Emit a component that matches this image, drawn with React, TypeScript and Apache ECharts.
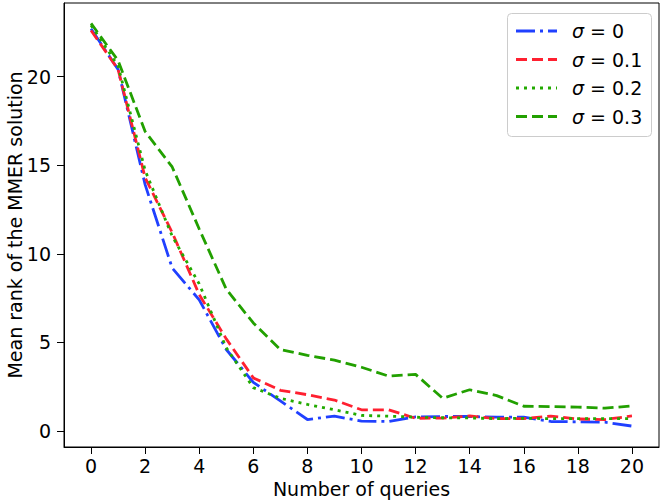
import React, { useEffect, useRef } from "react";
import * as echarts from "echarts";

const queries = [0, 1, 2, 3, 4, 5, 6, 7, 8, 9, 10, 11, 12, 13, 14, 15, 16, 17, 18, 19, 20];
const sigma0 = [22.7, 20.4, 13.9, 9.2, 7.4, 4.6, 2.75, 1.7, 0.65, 0.84, 0.56, 0.54, 0.8, 0.82, 0.82, 0.78, 0.78, 0.54, 0.52, 0.5, 0.28];
const sigma01 = [22.6, 20.4, 14.3, 11.2, 7.7, 5.2, 3.0, 2.3, 2.05, 1.75, 1.2, 1.2, 0.72, 0.73, 0.85, 0.7, 0.7, 0.84, 0.68, 0.65, 0.85];
const sigma02 = [22.9, 20.6, 14.7, 11.0, 8.3, 4.7, 2.45, 1.85, 1.5, 1.2, 0.88, 0.84, 0.78, 0.75, 0.74, 0.7, 0.72, 0.7, 0.7, 0.7, 0.7];
const sigma03 = [23.0, 20.9, 16.9, 14.9, 11.4, 8.0, 6.1, 4.6, 4.27, 4.0, 3.6, 3.1, 3.2, 1.85, 2.33, 2.0, 1.4, 1.38, 1.35, 1.29, 1.42];
const xTicks = [0, 2, 4, 6, 8, 10, 12, 14, 16, 18, 20];
const yTicks = [0, 5, 10, 15, 20];
const sigmaLabels = ["0", "0.1", "0.2", "0.3"];

const FONT = "DejaVu Sans";
const COLORS = ["#2040ff", "#ff2030", "#22aa00", "#22a000"];
const DASHES = [[19, 5, 3, 5], [11, 5], [3, 5], [11, 5]];
const LW = 2.8;

export default function App() {
  const ref = useRef<HTMLDivElement>(null);
  useEffect(() => {
    if (!ref.current) return;
    const chart = echarts.init(ref.current, null, { renderer: "svg" });
    const allVals = [sigma0, sigma01, sigma02, sigma03];
    const series = allVals.map((vals, k) => ({
      name: "σ = " + sigmaLabels[k],
      type: "line",
      data: queries.map((q, i) => [q, vals[i]]),
      showSymbol: false,
      symbol: "none",
      lineStyle: { color: COLORS[k], width: LW, type: DASHES[k], cap: "butt" },
      itemStyle: { color: COLORS[k] },
    }));

    const legendEls: any[] = [
      {
        type: "rect",
        shape: { x: 507.5, y: 13.5, width: 144, height: 123, r: 4 },
        style: { fill: "rgba(255,255,255,0.8)", stroke: "#cccccc", lineWidth: 1 },
        z: 10,
      },
    ];
    const rowY = [31, 59.5, 88, 116.5];
    sigmaLabels.forEach((lab, k) => {
      legendEls.push({
        type: "line",
        shape: { x1: 516, y1: rowY[k], x2: 557, y2: rowY[k] },
        style: { stroke: COLORS[k], lineWidth: LW, lineDash: DASHES[k], lineCap: "butt" },
        z: 11,
      });
      legendEls.push({
        type: "text",
        x: 572,
        y: rowY[k],
        style: {
          text: "{i|σ}{e| = " + lab + "}",
          fill: "#000",
          font: "19px " + FONT,
          verticalAlign: "middle",
          rich: {
            i: { fontStyle: "italic", fontSize: 19, fontFamily: FONT, fill: "#000" },
            e: { fontSize: 19, fontFamily: FONT, fill: "#000" },
          },
        },
        z: 11,
      });
    });

    chart.setOption({
      animation: false,
      backgroundColor: "#ffffff",
      grid: {
        left: 64,
        right: 4,
        top: 3,
        bottom: 53,
        show: true,
        containLabel: false,
        outerBoundsMode: "none",
        borderColor: "#000",
        borderWidth: 1,
        backgroundColor: "transparent",
      },
      xAxis: {
        type: "value",
        min: -1,
        max: 21,
        name: "Number of queries",
        nameLocation: "middle",
        nameGap: 28,
        nameTextStyle: { fontSize: 19, fontFamily: FONT, color: "#000" },
        splitLine: { show: false },
        axisLine: { show: true, onZero: false, lineStyle: { color: "#000", width: 1 } },
        axisTick: { show: true, length: 7, lineStyle: { color: "#000" }, customValues: xTicks },
        axisLabel: { fontSize: 19, fontFamily: FONT, color: "#000", margin: 9, customValues: xTicks },
      },
      yAxis: {
        type: "value",
        min: -0.9,
        max: 24.15,
        name: "Mean rank of the MMER solution",
        nameLocation: "middle",
        nameGap: 40,
        nameMoveOverlap: false,
        nameTextStyle: { fontSize: 19, fontFamily: FONT, color: "#000" },
        splitLine: { show: false },
        axisLine: { show: true, onZero: false, lineStyle: { color: "#000", width: 1 } },
        axisTick: { show: true, length: 7, lineStyle: { color: "#000" }, customValues: yTicks },
        axisLabel: { fontSize: 19, fontFamily: FONT, color: "#000", margin: 13, customValues: yTicks },
      },
      graphic: legendEls,
      series,
    });
    return () => chart.dispose();
  }, []);
  return <div ref={ref} style={{ width: 663, height: 500, position: "absolute", left: 0, top: 0 }} />;
}
